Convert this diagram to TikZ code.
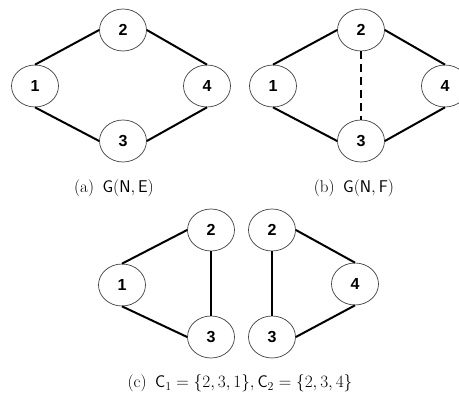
\documentclass[tikz,border=0pt]{standalone}
\usepackage{fontspec}
\newfontfamily\numfont{Liberation Sans}
\usetikzlibrary{shapes.geometric}
\tikzset{
  vert/.style={ellipse, draw=black!75, line width=0.7pt, fill=white,
    minimum width=47pt, minimum height=42pt, inner sep=0pt,
    font=\numfont\bfseries\fontsize{16}{16}\selectfont},
  link/.style={line width=2pt, black},
  dashlink/.style={line width=2pt, black, dash pattern=on 8pt off 5pt},
  captext/.style={anchor=base, font=\fontsize{17}{20}\selectfont, inner sep=0pt}
}
\begin{document}
\begin{tikzpicture}[x=1pt, y=-1pt]
\useasboundingbox (0,0) rectangle (459,398);
% (a)
\node[vert] (a1) at (35,86) {1};
\node[vert] (a2) at (123,30) {2};
\node[vert] (a3) at (123,141) {3};
\node[vert] (a4) at (207,86) {4};
\draw[link] (a1.north) -- (a2.west);
\draw[link] (a1.south) -- (a3.west);
\draw[link] (a2.east) -- (a4.north);
\draw[link] (a3.east) -- (a4.south);
\node[captext] (capa) at (114,192.5) {(a)\hspace{0.5em}$\mathsf{G}(\mathsf{N},\mathsf{E})$};
% (b)
\node[vert] (b1) at (273,86) {1};
\node[vert] (b2) at (361,30) {2};
\node[vert] (b3) at (361,141) {3};
\node[vert] (b4) at (445,86) {4};
\draw[link] (b1.north) -- (b2.west);
\draw[link] (b1.south) -- (b3.west);
\draw[link] (b2.east) -- (b4.north);
\draw[link] (b3.east) -- (b4.south);
\draw[dashlink] (b2.south) -- (b3.north);
\node[captext] (capb) at (354,192.5) {(b)\hspace{0.5em}$\mathsf{G}(\mathsf{N},\mathsf{F})$};
% (c)
\node[vert] (c1) at (122,285) {1};
\node[vert] (c2) at (211,230) {2};
\node[vert] (c3) at (211,337) {3};
\node[vert] (d2) at (272,230) {2};
\node[vert] (d4) at (355,284) {4};
\node[vert] (d3) at (272,337) {3};
\draw[link] (c1.north) -- (c2.west);
\draw[link] (c1.south) -- (c3.west);
\draw[link] (c2.south) -- (c3.north);
\draw[link] (d2.south) -- (d3.north);
\draw[link] (d2.east) -- (d4.north);
\draw[link] (d3.east) -- (d4.south);
\node[captext] (capc) at (240,388) {(c)\hspace{0.5em}$\mathsf{C}_1=\{2,3,1\},\mathsf{C}_2=\{2,3,4\}$};
\end{tikzpicture}
\end{document}
